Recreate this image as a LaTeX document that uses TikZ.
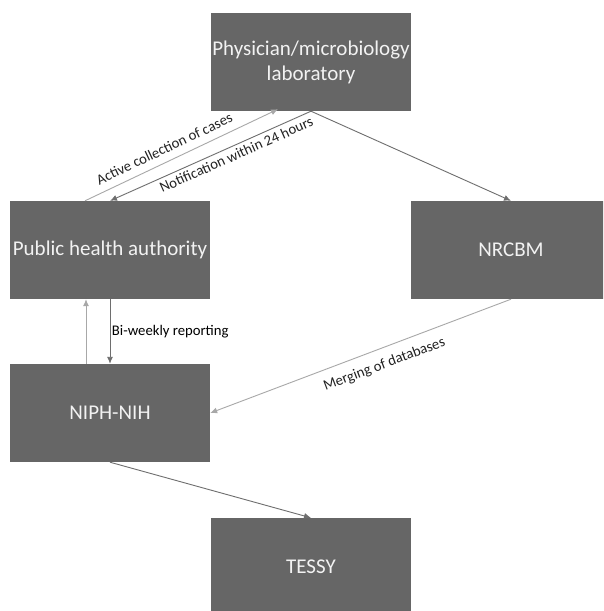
\documentclass[tikz,border=0pt]{standalone}
\usepackage{fontspec}
\setmainfont{Carlito}
\usetikzlibrary{arrows.meta}
\definecolor{boxfill}{HTML}{666666}
\definecolor{boxtext}{HTML}{F2F2F2}
\definecolor{darkline}{HTML}{6E6E6E}
\definecolor{lightline}{HTML}{A8A8A8}
\definecolor{labeltext}{HTML}{222222}
\begin{document}
\begin{tikzpicture}[x=1pt,y=-1pt,
  box/.style={fill=boxfill, draw=none, minimum width=200pt, minimum height=98pt,
    inner sep=0pt, align=center, text=boxtext,
    font=\fontsize{21}{25}\selectfont},
  arr/.style={-{Latex[length=7pt,width=6pt]}, line width=0.9pt},
  darkarr/.style={arr, draw=darkline},
  lightarr/.style={arr, draw=lightline},
  lab/.style={font=\fontsize{14.7}{17}\selectfont, text=labeltext, inner sep=1.5pt}
]
\clip (0,0) rectangle (603,611);
\fill[white] (0,0) rectangle (603,611);

\node[box] (top) at (311,62) {Physician/microbiology\\laboratory};
\node[box] (pha) at (110,250) {Public health authority};
\node[box] (nrcbm) at (511,250) {NRCBM};
\node[box] (niph) at (110,413) {NIPH-NIH};
\node[box] (tessy) at (311,567) {TESSY};

\draw[lightarr] ([xshift=-25pt]pha.north) -- node[lab, sloped, above=6pt, pos=0.44] {Active collection of cases} ([xshift=-33pt,yshift=2pt]top.south);
\draw[darkarr] (top.south) -- node[lab, sloped, below=2pt, pos=0.39] {Notification within 24 hours} (pha.north);
\draw[darkarr] (top.south) -- (nrcbm.north);
\draw[darkarr] (pha.south) -- node[lab, right, pos=0.5, text=black] {Bi-weekly reporting} (niph.north);
\draw[lightarr] ([xshift=-24pt]niph.north) -- ([xshift=-24pt]pha.south);
\draw[lightarr] (nrcbm.south) -- node[lab, sloped, below=8pt, pos=0.44] {Merging of databases} (niph.east);
\draw[darkarr] (niph.south) -- (tessy.north);
\end{tikzpicture}
\end{document}
